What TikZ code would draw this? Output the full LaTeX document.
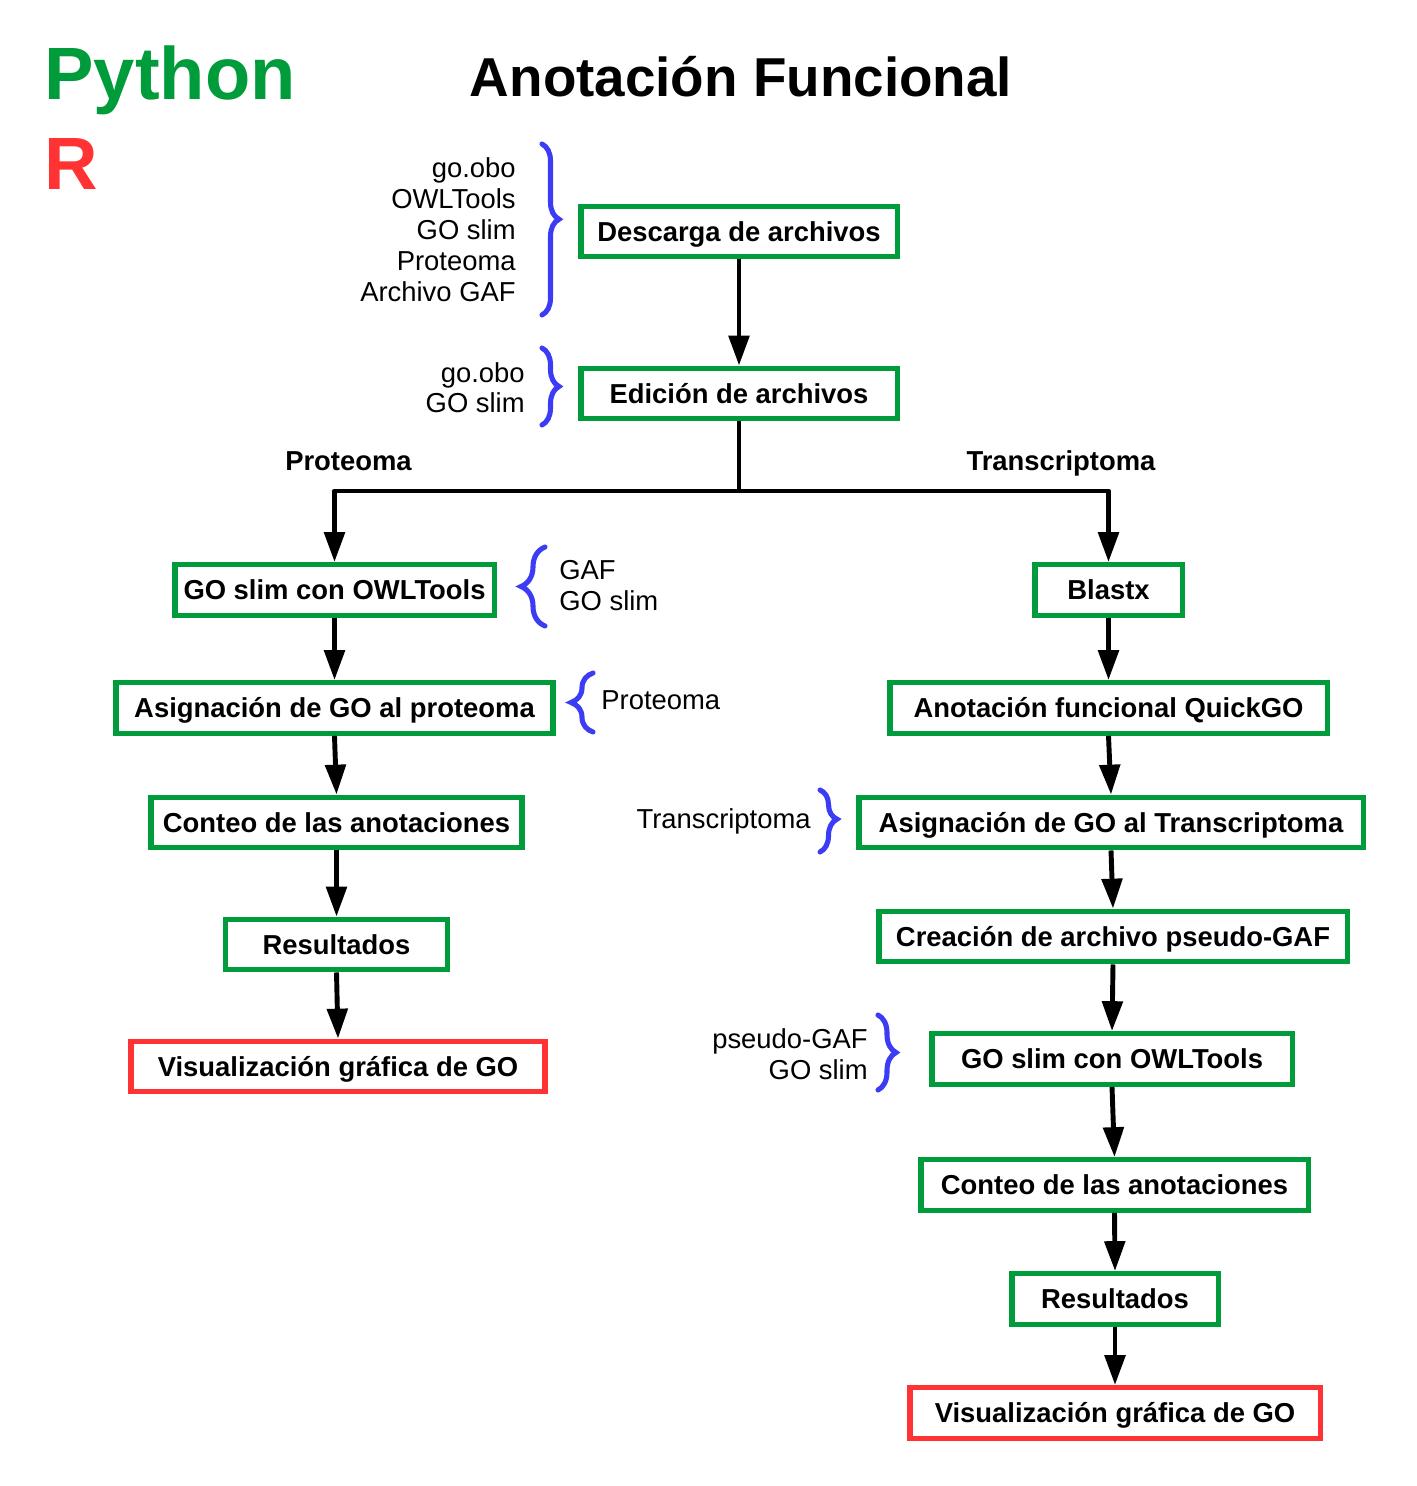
\documentclass[tikz,border=0pt]{standalone}
\usepackage{fontspec}
\setmainfont{Liberation Sans}
\usetikzlibrary{arrows.meta,decorations.pathreplacing}

\definecolor{goGreen}{RGB}{0,155,58}
\definecolor{vizRed}{RGB}{255,51,51}
\definecolor{braceBlue}{RGB}{60,60,245}

\begin{document}
\begin{tikzpicture}[x=0.02cm,y=-0.02cm,
  box/.style={draw=goGreen, line width=3.1pt, fill=white, inner sep=0pt,
    minimum height=1.01cm, text height=11.2pt, text depth=0pt,
    font=\fontsize{15.6}{18}\selectfont\bfseries},
  endbox/.style={box, draw=vizRed},
  flow/.style={line width=2.8pt, line join=round, -{Triangle[length=17pt,width=11.5pt]}},
  trunk/.style={line width=2.8pt, line join=round},
  lbl/.style={inner sep=0pt, font=\fontsize{15.6}{18}\selectfont},
  branch/.style={inner sep=0pt, font=\fontsize{15.6}{18}\selectfont\bfseries},
  curly/.style={draw=braceBlue, line width=2.9pt, line cap=round, decorate},
]
\useasboundingbox (0,0) rectangle (1416,1486);

% headings
\node[anchor=base west, inner sep=0pt, text=goGreen,
  font=\fontsize{42.2}{48}\selectfont\bfseries] (py) at (44,100) {Python};
\node[anchor=base west, inner sep=0pt, text=vizRed,
  font=\fontsize{42.2}{48}\selectfont\bfseries] (rr) at (44,190) {R};
\node[anchor=base, inner sep=0pt,
  font=\fontsize{31.2}{36}\selectfont\bfseries] (title) at (741,97) {Anotación Funcional};

% common trunk
\node[box, minimum width=6.33cm] (desc) at (739,231.5) {Descarga de archivos};
\node[box, minimum width=6.33cm] (ed)   at (739,393.5) {Edición de archivos};

% proteome branch
\node[box, minimum width=6.39cm] (goL)   at (334.5,590)  {GO slim con OWLTools};
\node[box, minimum width=8.75cm] (asgL)  at (334.5,708)  {Asignación de GO al proteoma};
\node[box, minimum width=7.43cm] (cntL)  at (336.5,822.5) {Conteo de las anotaciones};
\node[box, minimum width=4.43cm] (resL)  at (336.5,944.5) {Resultados};
\node[endbox, minimum width=8.29cm] (visL) at (338,1066.5) {Visualización gráfica de GO};

% transcriptome branch
\node[box, minimum width=2.95cm]  (blast) at (1108.5,590)  {Blastx};
\node[box, minimum width=8.75cm]  (qgo)   at (1108.5,708)  {Anotación funcional QuickGO};
\node[box, minimum width=10.09cm] (asgR)  at (1111,822.5)  {Asignación de GO al Transcriptoma};
\node[box, minimum width=9.37cm]  (gaf)   at (1113,936.5)  {Creación de archivo pseudo-GAF};
\node[box, minimum width=7.21cm]  (goR)   at (1112,1059)   {GO slim con OWLTools};
\node[box, minimum width=7.75cm]  (cntR)  at (1114.5,1185) {Conteo de las anotaciones};
\node[box, minimum width=4.13cm]  (resR)  at (1115,1299)   {Resultados};
\node[endbox, minimum width=8.21cm] (visR) at (1115,1413)  {Visualización gráfica de GO};

% branch titles
\node[branch, anchor=base] (lblP) at (348.5,470) {Proteoma};
\node[branch, anchor=base] (lblT) at (1061,470) {Transcriptoma};

% connectors
\coordinate (split) at (739,491);
\draw[flow] (desc.south) -- (ed.north);
\draw[trunk] (ed.south) -- (split);
\draw[flow] (split) -| (goL.north);
\draw[flow] (split) -| (blast.north);

\draw[flow] (goL.south)  -- (asgL.north);
\draw[flow] (asgL.south) -- (cntL.north);
\draw[flow] (cntL.south) -- (resL.north);
\draw[flow] (resL.south) -- (visL.north);

\draw[flow] (blast.south) -- (qgo.north);
\draw[flow] (qgo.south)   -- (asgR.north);
\draw[flow] (asgR.south)  -- (gaf.north);
\draw[flow] (gaf.south)   -- (goR.north);
\draw[flow] (goR.south)   -- (cntR.north);
\draw[flow] (cntR.south)  -- (resR.north);
\draw[flow] (resR.south)  -- (visR.north);

% input files and their braces
\foreach \t [count=\i] in {go.obo, OWLTools, GO slim, Proteoma, Archivo GAF}
  \node[lbl, anchor=base east] (inDesc\i) at (516,147+31*\i) {\t};
\draw[curly, decoration={brace, amplitude=0.34cm, aspect=0.44}] (542,144) -- (542,315);

\foreach \t [count=\i] in {go.obo, GO slim}
  \node[lbl, anchor=base east] (inEd\i) at (525,351+31*\i) {\t};
\draw[curly, decoration={brace, amplitude=0.34cm}] (542,348) -- (542,425);

\foreach \t [count=\i] in {GAF, GO slim}
  \node[lbl, anchor=base west] (inGoL\i) at (559,548+31*\i) {\t};
\draw[curly, decoration={brace, amplitude=0.48cm}] (545,626) -- (545,547);

\node[lbl, anchor=base west] (inAsgL) at (601,709) {Proteoma};
\draw[curly, decoration={brace, amplitude=0.44cm}] (593,732) -- (593,673);

\node[lbl, anchor=base east] (inAsgR) at (811,828) {Transcriptoma};
\draw[curly, decoration={brace, amplitude=0.34cm, aspect=0.47}] (820,790) -- (820,852);

\foreach \t [count=\i] in {pseudo-GAF, GO slim}
  \node[lbl, anchor=base east] (inGoR\i) at (868,1017+31*\i) {\t};
\draw[curly, decoration={brace, amplitude=0.36cm}] (878,1015) -- (878,1090);

\end{tikzpicture}
\end{document}
